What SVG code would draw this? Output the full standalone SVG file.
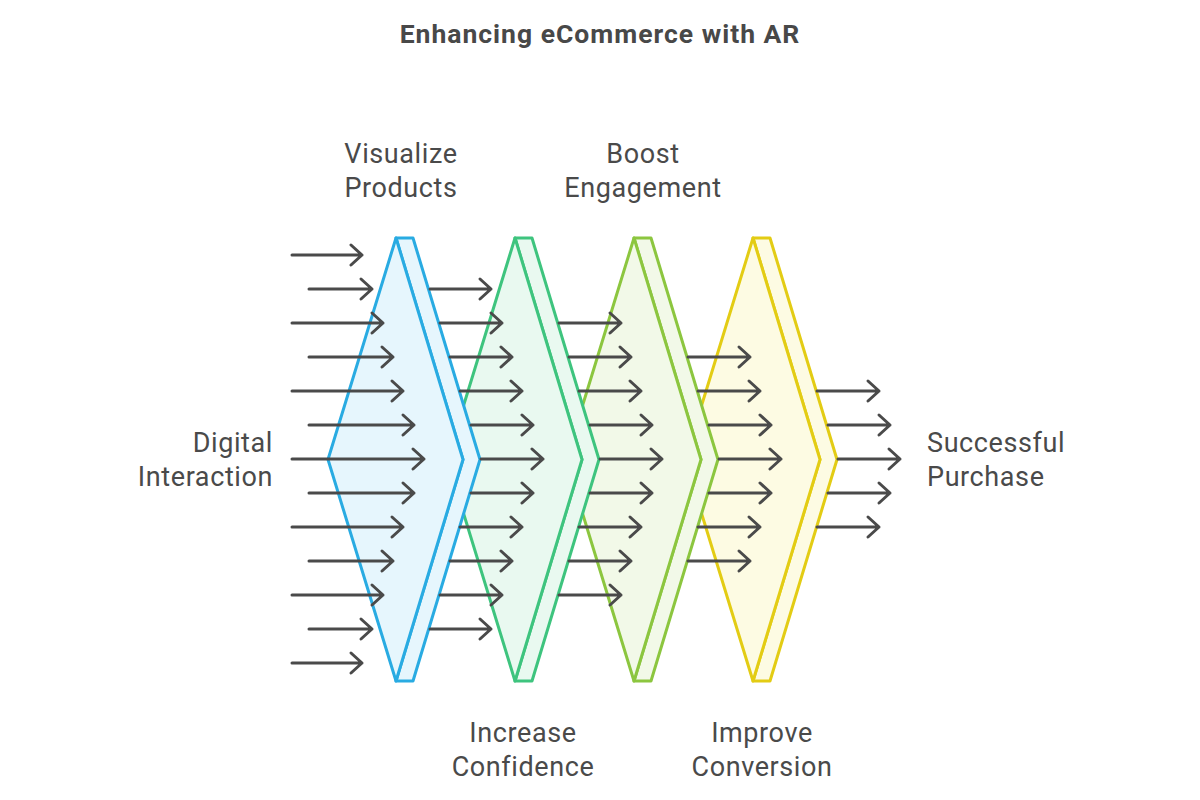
<svg xmlns="http://www.w3.org/2000/svg" width="1200" height="800" viewBox="0 0 1200 800">
<style>
.t{font-family:Roboto,"Liberation Sans",sans-serif;font-size:27px;letter-spacing:0.6px;fill:#4a4a4a}
.title{font-family:Roboto,"Liberation Sans",sans-serif;font-size:26.5px;letter-spacing:1px;font-weight:bold;fill:#484848}
.shp polygon{stroke-width:3;stroke-linejoin:round}
.blue polygon{stroke:#29abe2;fill:#e6f6fd}
.green polygon{stroke:#3ec47e;fill:#e9f9f0}
.lime polygon{stroke:#8cc63f;fill:#f2f9e8}
.yellow polygon{stroke:#e3cc14;fill:#fdfbe3}
#connectors path{fill:none;stroke:#4a4a4a;stroke-width:3;stroke-linecap:round;stroke-linejoin:round}
</style>
<rect width="1200" height="800" fill="#ffffff"/>
<text class="title" x="600" y="43" text-anchor="middle">Enhancing eCommerce with AR</text>

<g id="improve-conversion" class="shp yellow">
<polygon points="753,238 770,238 837,459.5 770,681 753,681 820,459.5"/>
<polygon points="753,238 820,459.5 753,681 685,459.5"/>
<text class="t" x="762" y="742" text-anchor="middle">Improve</text>
<text class="t" x="762" y="776" text-anchor="middle">Conversion</text>
</g>
<g id="boost-engagement" class="shp lime">
<polygon points="634,238 651,238 718,459.5 651,681 634,681 701,459.5"/>
<polygon points="634,238 701,459.5 634,681 566,459.5"/>
<text class="t" x="643" y="163" text-anchor="middle">Boost</text>
<text class="t" x="643" y="197" text-anchor="middle">Engagement</text>
</g>
<g id="increase-confidence" class="shp green">
<polygon points="515,238 532,238 599,459.5 532,681 515,681 582,459.5"/>
<polygon points="515,238 582,459.5 515,681 447,459.5"/>
<text class="t" x="523" y="742" text-anchor="middle">Increase</text>
<text class="t" x="523" y="776" text-anchor="middle">Confidence</text>
</g>
<g id="visualize-products" class="shp blue">
<polygon points="396,238 413,238 480,459.5 413,681 396,681 463,459.5"/>
<polygon points="396,238 463,459.5 396,681 328,459.5"/>
<text class="t" x="401" y="163" text-anchor="middle">Visualize</text>
<text class="t" x="401" y="197" text-anchor="middle">Products</text>
</g>
<g id="digital-interaction">
<text class="t" x="273" y="452" text-anchor="end">Digital</text>
<text class="t" x="273" y="486" text-anchor="end">Interaction</text>
</g>
<g id="successful-purchase">
<text class="t" x="927" y="452">Successful</text>
<text class="t" x="927" y="486">Purchase</text>
</g>

<g id="connectors">
<path d="M292,255H362M351,245L362,255L351,265"/>
<path d="M309,289H372M361,279L372,289L361,299"/>
<path d="M292,323H383M372,313L383,323L372,333"/>
<path d="M309,357H393M382,347L393,357L382,367"/>
<path d="M292,391H403M392,381L403,391L392,401"/>
<path d="M309,425H414M403,415L414,425L403,435"/>
<path d="M292,459H424M413,449L424,459L413,469"/>
<path d="M309,493H414M403,483L414,493L403,503"/>
<path d="M292,527H403M392,517L403,527L392,537"/>
<path d="M309,561H393M382,551L393,561L382,571"/>
<path d="M292,595H383M372,585L383,595L372,605"/>
<path d="M309,629H372M361,619L372,629L361,639"/>
<path d="M292,663H362M351,653L362,663L351,673"/>
<path d="M430,289H491M480,279L491,289L480,299"/>
<path d="M440,323H502M491,313L502,323L491,333"/>
<path d="M450,357H512M501,347L512,357L501,367"/>
<path d="M460,391H522M511,381L522,391L511,401"/>
<path d="M471,425H533M522,415L533,425L522,435"/>
<path d="M481,459H543M532,449L543,459L532,469"/>
<path d="M471,493H533M522,483L533,493L522,503"/>
<path d="M460,527H522M511,517L522,527L511,537"/>
<path d="M450,561H512M501,551L512,561L501,571"/>
<path d="M440,595H502M491,585L502,595L491,605"/>
<path d="M430,629H491M480,619L491,629L480,639"/>
<path d="M559,323H621M610,313L621,323L610,333"/>
<path d="M569,357H631M620,347L631,357L620,367"/>
<path d="M579,391H641M630,381L641,391L630,401"/>
<path d="M590,425H652M641,415L652,425L641,435"/>
<path d="M600,459H662M651,449L662,459L651,469"/>
<path d="M590,493H652M641,483L652,493L641,503"/>
<path d="M579,527H641M630,517L641,527L630,537"/>
<path d="M569,561H631M620,551L631,561L620,571"/>
<path d="M559,595H621M610,585L621,595L610,605"/>
<path d="M688,357H750M739,347L750,357L739,367"/>
<path d="M698,391H760M749,381L760,391L749,401"/>
<path d="M709,425H771M760,415L771,425L760,435"/>
<path d="M719,459H781M770,449L781,459L770,469"/>
<path d="M709,493H771M760,483L771,493L760,503"/>
<path d="M698,527H760M749,517L760,527L749,537"/>
<path d="M688,561H750M739,551L750,561L739,571"/>
<path d="M817,391H879M868,381L879,391L868,401"/>
<path d="M828,425H890M879,415L890,425L879,435"/>
<path d="M838,459H900M889,449L900,459L889,469"/>
<path d="M828,493H890M879,483L890,493L879,503"/>
<path d="M817,527H879M868,517L879,527L868,537"/>
</g>
</svg>
